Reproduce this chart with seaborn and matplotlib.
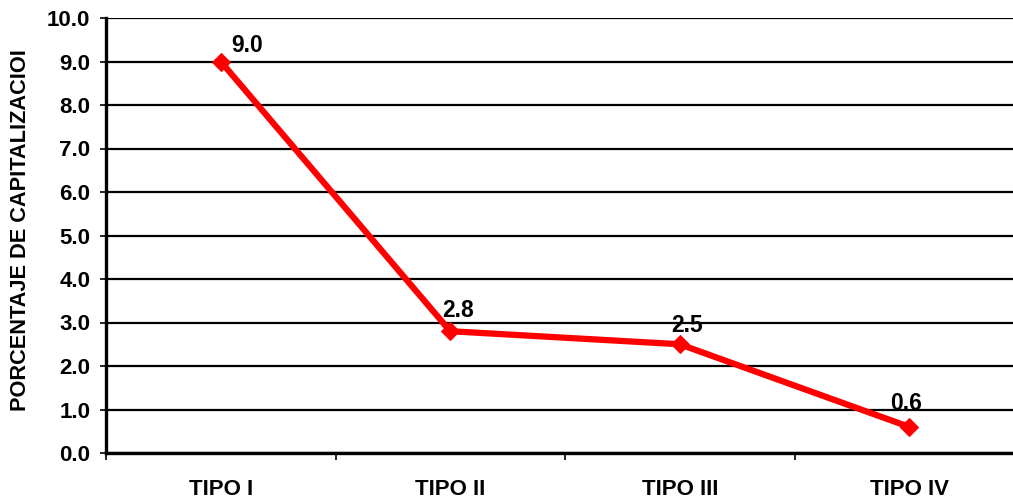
import matplotlib
matplotlib.use("Agg")
import matplotlib.pyplot as plt
import seaborn as sns
import pandas as pd
from matplotlib.ticker import FixedLocator, MultipleLocator, FormatStrFormatter

categories = ["TIPO I", "TIPO II", "TIPO III", "TIPO IV"]
values = [9.0, 2.8, 2.5, 0.6]
value_labels = ["9.0", "2.8", "2.5", "0.6"]
y_label = "PORCENTAJE DE CAPITALIZACIOI"

sns.set_style("white")
plt.rcParams["font.family"] = ["Liberation Sans", "DejaVu Sans"]
plt.rcParams["font.weight"] = "bold"
plt.rcParams["text.color"] = "black"
plt.rcParams["xtick.color"] = "black"
plt.rcParams["ytick.color"] = "black"

df = pd.DataFrame({"cat": categories, "val": values})

fig = plt.figure(figsize=(10.13, 5.01), dpi=100)
ax = fig.add_axes([106 / 1013, 1 - 453 / 501, 918 / 1013, 435 / 501])

sns.lineplot(data=df, x="cat", y="val", ax=ax, color="#ff0000", linewidth=4.5,
             marker="D", markersize=9, markeredgecolor="#ff0000", sort=False,
             zorder=3)

ax.set_xlim(-0.5, 3.5)
ax.set_ylim(0, 10)
ax.yaxis.set_major_locator(MultipleLocator(1.0))
ax.yaxis.set_major_formatter(FormatStrFormatter("%.1f"))
ax.grid(axis="y", color="black", linewidth=1.6, zorder=1)
ax.grid(axis="x", visible=False)

for s in ["top", "right"]:
    ax.spines[s].set_visible(False)
for s in ["left", "bottom"]:
    ax.spines[s].set_color("black")
    ax.spines[s].set_linewidth(2.4)

ax.tick_params(axis="y", which="major", left=True, length=4.3, width=1.2,
               color="black", labelcolor="black", pad=7, labelsize=16)
ax.tick_params(axis="x", which="major", bottom=False, length=0, pad=19,
               labelcolor="black", labelsize=16)
ax.xaxis.set_minor_locator(FixedLocator([-0.5, 0.5, 1.5, 2.5, 3.5]))
ax.tick_params(axis="x", which="minor", bottom=True, length=5, width=1.2,
               color="black")
for lab in ax.get_xticklabels() + ax.get_yticklabels():
    lab.set_fontweight("bold")

ax.set_xlabel("")
ax.set_ylabel("")
fig.text(21 / 1013, 1 - 230 / 501, y_label, rotation=90, ha="center",
         va="center", fontsize=15.7, fontweight="bold", color="black")

offsets = [(26, 9), (8, 14), (7, 12), (-3, 17)]
for i, (v, t) in enumerate(zip(values, value_labels)):
    ax.annotate(t, xy=(i, v), xytext=offsets[i], textcoords="offset pixels",
                ha="center", va="baseline", fontsize=16.5, fontweight="bold",
                color="black", zorder=4)

fig.savefig("out.png", dpi=100)
